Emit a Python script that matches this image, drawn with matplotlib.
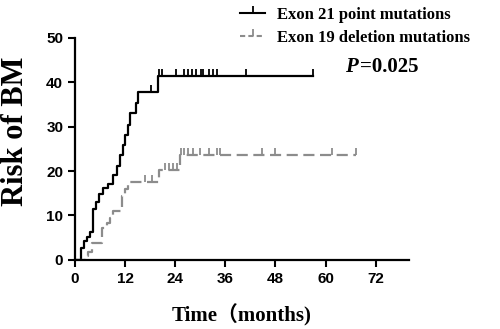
import numpy as np
import matplotlib
matplotlib.use('Agg')
import matplotlib.pyplot as plt
from matplotlib.lines import Line2D

# Exon 21 point mutations (black)
t21 = [0, 1.5, 2.2, 2.9, 3.5, 4.2, 5.0, 5.8, 6.8, 8.0, 9.2, 10.0, 10.8, 11.4,
       12.0, 12.8, 13.2, 14.6, 15.2, 19.8]
r21 = [0, 2.7, 4.3, 5.2, 6.2, 11.4, 13.0, 14.8, 16.3, 17.2, 19.2, 21.2, 23.6,
       25.9, 28.2, 30.4, 33.0, 35.3, 37.7, 41.4]
end21 = 57.0
cens21 = [18.2, 20.2, 20.8, 24.2, 26.0, 27.0, 28.0, 29.0, 30.2, 30.6, 32.0,
          33.1, 34.0, 41.0, 57.0]

# Exon 19 deletion mutations (grey)
t19 = [0, 2.5, 3.2, 4.0, 6.4, 7.6, 8.4, 9.2, 11.2, 12.0, 12.8, 20.0, 25.2]
r19 = [0, 0.8, 1.8, 3.8, 7.2, 8.3, 9.5, 10.9, 14.3, 16.0, 17.6, 20.3, 23.7]
end19 = 67.2
cens19 = [16.8, 18.4, 21.5, 22.5, 23.5, 24.5, 25.5, 26.2, 27.0, 28.3, 30.0,
          32.0, 34.0, 34.8, 44.8, 48.0, 61.6, 67.2]

xticks = [0, 12, 24, 36, 48, 60, 72]
yticks = [0, 10, 20, 30, 40, 50]

grey = '#8c8c8c'
serif = ['Liberation Serif', 'Noto Sans CJK SC']


def step_at(ts, rs, x):
    idx = np.searchsorted(ts, x, side='right') - 1
    return np.array(rs)[idx]


fig = plt.figure(figsize=(5.0, 3.29), dpi=100)
ax = fig.add_axes([0.15, 0.21, 0.668, 0.675])

# black curve
ax.step(t21 + [end21], r21 + [r21[-1]], where='post', color='black', lw=1.6)
ax.plot(cens21, step_at(t21, r21, cens21), ls='none', marker=2,
        color='black', ms=5, mew=1.3)

# grey dashed curve
ax.step(t19 + [end19], r19 + [r19[-1]], where='post', color=grey, lw=1.6,
        dashes=(5, 2.5))
ax.plot(cens19, step_at(t19, r19, cens19), ls='none', marker=2,
        color=grey, ms=5, mew=1.3)

ax.set_xlim(0, 80)
ax.set_ylim(0, 50)
ax.set_xticks(xticks)
ax.set_yticks(yticks)
for s in ['top', 'right']:
    ax.spines[s].set_visible(False)
for s in ['left', 'bottom']:
    ax.spines[s].set_linewidth(1.6)
ax.tick_params(width=1.5, length=5, direction='out')
for lab in ax.get_xticklabels() + ax.get_yticklabels():
    lab.set_fontfamily('Liberation Sans')
    lab.set_fontweight('bold')
    lab.set_fontsize(11)

ax.set_xlabel('Time（months)', family=serif, fontweight='bold', fontsize=15,
              labelpad=13)
ax.set_ylabel('Risk of BM', family=serif, fontweight='bold', fontsize=22)
ax.yaxis.set_label_coords(-0.135, 0.577)

handles = [
    Line2D([], [], color='black', lw=1.5, marker=2, ms=5, mew=1.3),
    Line2D([], [], color=grey, lw=1.5, dashes=(2.5, 1.5), marker=2, ms=5, mew=1.3),
]
fig.legend(handles, ['Exon 21 point mutations', 'Exon 19 deletion mutations'],
           loc='upper left', bbox_to_anchor=(0.45, 1.025), frameon=False,
           handlelength=1.5, handletextpad=0.7, labelspacing=0.45,
           numpoints=1, prop={'family': 'Liberation Serif', 'weight': 'bold',
                              'size': 12})

fig.text(0.69, 0.795, 'P', family='Liberation Serif', style='italic',
         fontweight='bold', fontsize=15, va='center')
fig.text(0.72, 0.795, '=0.025', family='Liberation Serif',
         fontweight='bold', fontsize=15, va='center')

fig.savefig('out.png', dpi=100)
